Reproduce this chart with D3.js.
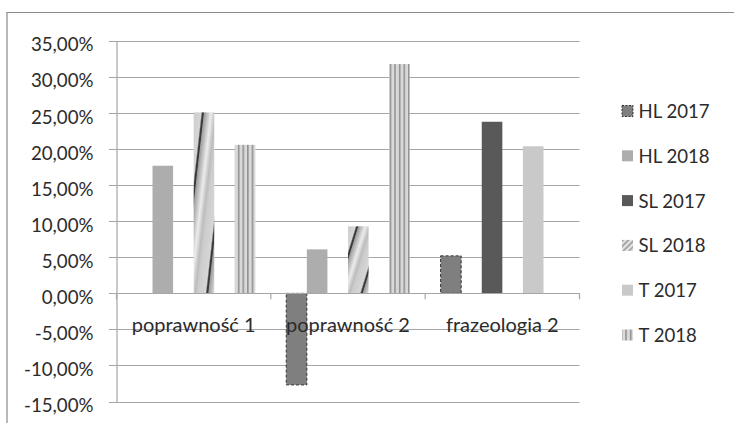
<!DOCTYPE html>
<html>
<head>
<meta charset="utf-8">
<script src="https://cdn.jsdelivr.net/npm/d3@7"></script>
<style>
  html, body { margin: 0; padding: 0; background: #fff; }
  svg { display: block; }
  text { font-family: Lato, "Noto Sans", sans-serif; fill: #2b2b2b; }
</style>
</head>
<body>
<svg id="chart" width="734" height="423"></svg>
<script>
// Categories and series
const categories = ["poprawność 1", "poprawność 2", "frazeologia 2"];
const seriesNames = ["HL 2017", "HL 2018", "SL 2017", "SL 2018", "T 2017", "T 2018"];

// Values per series, one per category (null = no bar)
const hl2017 = [null, -0.127, 0.052];
const hl2018 = [0.177, 0.061, null];
const sl2017 = [null, null, 0.238];
const sl2018 = [0.251, 0.093, null];
const t2017  = [null, null, 0.204];
const t2018  = [0.206, 0.318, null];
const seriesValues = [hl2017, hl2018, sl2017, sl2018, t2017, t2018];

const yTicks = [-0.15, -0.10, -0.05, 0, 0.05, 0.10, 0.15, 0.20, 0.25, 0.30, 0.35];

const svg = d3.select("#chart");
const defs = svg.append("defs");

// Polish number format: "35,00%"
const pl = d3.formatLocale({ decimal: ",", thousands: " ", grouping: [3], currency: ["", " zł"], minus: "-" });
const fmt = pl.format(".2%");

// Diagonal shaded stripe used by SL 2018 bars (stretched to each bar)
const diag = defs.append("linearGradient")
  .attr("id", "diagGrad")
  .attr("gradientUnits", "objectBoundingBox")
  .attr("x1", 0).attr("y1", 0).attr("x2", 0.605).attr("y2", 0.605)
  .attr("spreadMethod", "repeat");
[[0, "#cdcdcd"], [0.30, "#d6d6d6"], [0.355, "#3a3a3a"], [0.395, "#3a3a3a"], [0.43, "#9e9e9e"],
 [0.70, "#ececec"], [0.88, "#bdbdbd"], [1, "#cdcdcd"]]
  .forEach(([o, c]) => diag.append("stop").attr("offset", o).attr("stop-color", c));

// Small diagonal hatch for the legend swatch of SL 2018
const hatch = defs.append("pattern")
  .attr("id", "hatchSmall").attr("patternUnits", "userSpaceOnUse")
  .attr("width", 4).attr("height", 4).attr("patternTransform", "rotate(45)");
hatch.append("rect").attr("width", 4).attr("height", 4).attr("fill", "#e4e4e4");
hatch.append("rect").attr("width", 1.6).attr("height", 4).attr("fill", "#9a9a9a");

// Vertical stripes for T 2018
const vstripe = defs.append("pattern")
  .attr("id", "vStripe").attr("patternUnits", "userSpaceOnUse")
  .attr("width", 4.6).attr("height", 4).attr("x", 0.5);
vstripe.append("rect").attr("width", 4.6).attr("height", 4).attr("fill", "#d9d9d9");
vstripe.append("rect").attr("x", 2.8).attr("width", 1.5).attr("height", 4).attr("fill", "#8e8e8e");

const styles = [
  { fill: "#7f7f7f", stroke: "#333", dash: "3,2" },
  { fill: "#adadad" },
  { fill: "#595959" },
  { fill: "url(#diagGrad)", legendFill: "url(#hatchSmall)" },
  { fill: "#c9c9c9" },
  { fill: "url(#vStripe)" }
];

// Outer frame (top and left edges)
svg.append("path").attr("d", "M7,423 V12.5 H734")
  .attr("fill", "none").attr("stroke", "#8a8a8a").attr("stroke-width", 1.2);

// Scales
const x0 = d3.scaleBand().domain(categories).range([116.5, 579.5]).padding(0);
const x1 = d3.scaleBand().domain(seriesNames).range([0, x0.bandwidth()]).paddingInner(0).paddingOuter(0.75);
const y = d3.scaleLinear().domain([-0.15, 0.35]).range([401.5, 41]);

// Gridlines
svg.append("g").selectAll("line").data(yTicks).join("line")
  .attr("x1", 109).attr("x2", x0.range()[1])
  .attr("y1", d => Math.round(y(d)) + 0.5).attr("y2", d => Math.round(y(d)) + 0.5)
  .attr("stroke", "#a6a6a6").attr("stroke-width", 1.2);

// Y axis
const yAxis = d3.axisLeft(y).tickValues(yTicks).tickFormat(fmt).tickSize(0).tickPadding(23);
const ya = svg.append("g").attr("transform", "translate(116.5,0)").call(yAxis);
ya.select(".domain").attr("stroke", "#a6a6a6").attr("stroke-width", 1.2);
ya.selectAll("text")
  .attr("dy", "0.53em")
  .style("font-size", "18.7px").style("font-family", "Lato, sans-serif").attr("fill", "#2b2b2b");

// Bars
const barData = [];
seriesValues.forEach((vals, si) => vals.forEach((v, ci) => {
  if (v !== null) barData.push({ s: seriesNames[si], si, c: categories[ci], v });
}));

svg.append("g").selectAll("rect").data(barData).join("rect")
  .attr("x", d => x0(d.c) + x1(d.s))
  .attr("width", x1.bandwidth())
  .attr("y", d => y(Math.max(0, d.v)))
  .attr("height", d => Math.abs(y(d.v) - y(0)))
  .attr("fill", d => styles[d.si].fill)
  .attr("stroke", d => styles[d.si].stroke || "none")
  .attr("stroke-dasharray", d => styles[d.si].dash || null)
  .attr("stroke-width", 1);

// Zero axis line with category ticks
svg.append("line").attr("x1", x0.range()[0]).attr("x2", x0.range()[1])
  .attr("y1", Math.round(y(0)) + 0.5).attr("y2", Math.round(y(0)) + 0.5)
  .attr("stroke", "#a6a6a6").attr("stroke-width", 1.2);
const bounds = categories.map(c => x0(c)).concat([x0.range()[1]]);
svg.append("g").selectAll("line").data(bounds).join("line")
  .attr("x1", d => d).attr("x2", d => d)
  .attr("y1", y(0)).attr("y2", y(0) + 6)
  .attr("stroke", "#a6a6a6").attr("stroke-width", 1.2);

// Category labels
svg.append("g").selectAll("text").data(categories).join("text")
  .attr("x", d => x0(d) + x0.bandwidth() / 2)
  .attr("y", 332)
  .attr("text-anchor", "middle")
  .style("font-size", "20px")
  .text(d => d);

// Legend
const lg = svg.append("g").selectAll("g").data(seriesNames).join("g")
  .attr("transform", (d, i) => `translate(622,${111 + i * 44.8})`);
lg.append("rect")
  .attr("x", 0).attr("y", -5.5).attr("width", 11).attr("height", 11)
  .attr("fill", (d, i) => styles[i].legendFill || styles[i].fill)
  .attr("stroke", (d, i) => styles[i].stroke || "none")
  .attr("stroke-dasharray", (d, i) => styles[i].dash ? "2,1.5" : null);
lg.append("text")
  .attr("x", 16.5).attr("y", 0).attr("dy", "0.38em")
  .style("font-size", "18.6px")
  .text(d => d);
</script>
</body>
</html>
